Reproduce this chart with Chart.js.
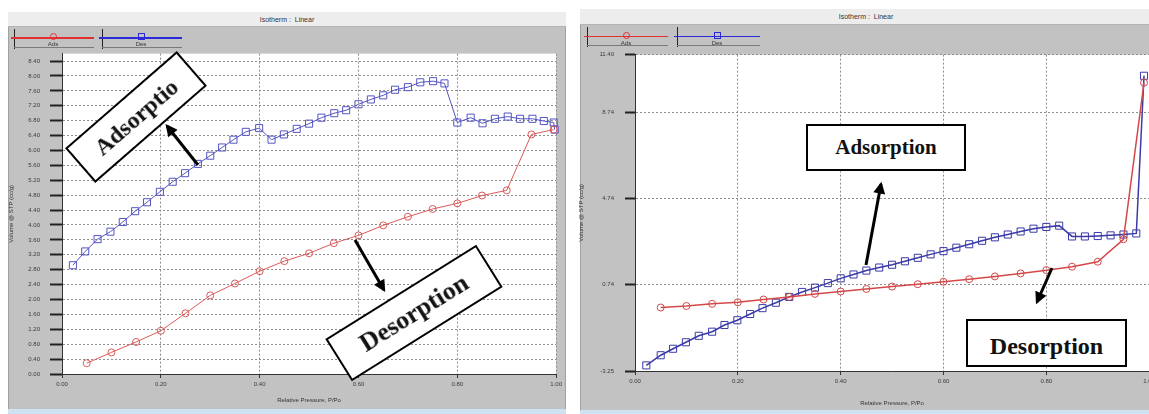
<!DOCTYPE html>
<html lang="en">
<head>
<meta charset="UTF-8" />
<title>Isotherm : Linear</title>
<script src="https://cdn.jsdelivr.net/npm/chart.js"></script>
<style>
  html, body { margin: 0; padding: 0; background: #fff; width: 1149px; height: 414px; overflow: hidden; }
  body { position: relative; font-family: "Liberation Sans", Arial, sans-serif; color: #333; }
  .abs { position: absolute; box-sizing: border-box; }
  .panel { background: #c2c2c2; border: 1px solid #a0a0a0; }
  .titlebar { background: #ededed; border-bottom: 1px solid #b4b4b4; font-size: 7px; text-align: center; }
  .strip { background: #cfe2f2; }
  .leg-line { height: 1.5px; }
  .leg-tick { width: 1px; background: #222; }
  .leg-under { height: 1px; background: #7a7a7a; }
  .leg-text { font-size: 6px; width: 20px; text-align: center; line-height: 6px; }
  .note { border: 2px solid #000; background: #fff; display: flex; align-items: center; justify-content: center;
          font-family: "Liberation Serif", "Times New Roman", serif; font-weight: bold; color: #111;
          white-space: nowrap; overflow: hidden; }
  canvas { position: absolute; }
</style>
</head>
<body>
  <!-- left window -->
  <div class="abs panel" style="left:8px;top:12px;width:558px;height:402px"></div>
  <div class="abs titlebar" style="left:8px;top:12px;width:558px;height:15px;line-height:15px">Isotherm :&nbsp; Linear</div>
  <div class="abs strip" style="left:8px;top:409px;width:558px;height:5px"></div>
  <canvas id="leftChart" width="557" height="365" style="left:8px;top:40px"></canvas>

  <!-- right window -->
  <div class="abs panel" style="left:580px;top:9px;width:600px;height:405px"></div>
  <div class="abs titlebar" style="left:580px;top:9px;width:572px;height:16px;line-height:16px">Isotherm :&nbsp; Linear</div>
  <div class="abs strip" style="left:580px;top:410px;width:600px;height:4px"></div>
  <canvas id="rightChart" width="580" height="368" style="left:578px;top:40px"></canvas>

  <!-- call-outs -->
  <div class="abs note" style="left:62px;top:94px;width:148px;height:46px;font-size:24px;transform:rotate(-41deg)">Adsorptio</div>
  <div class="abs note" style="left:325px;top:288px;width:178px;height:50px;font-size:26px;transform:rotate(-32deg)">Desorption</div>
  <div class="abs note" style="left:806px;top:124px;width:160px;height:47px;font-size:21px">Adsorption</div>
  <div class="abs note" style="left:966px;top:319px;width:161px;height:48px;font-size:24px;padding-top:6px">Desorption</div>

  <svg class="abs" width="1149" height="414" style="left:0;top:0">
    <defs>
      <marker id="head" viewBox="0 0 10 10" refX="8" refY="5" markerWidth="4.5" markerHeight="4" orient="auto">
        <path d="M0,0 L10,5 L0,10 z" fill="#000" />
      </marker>
    </defs>
    <g stroke="#000" stroke-width="3" marker-end="url(#head)">
      <line x1="198" y1="165" x2="167" y2="126" />
      <line x1="355" y1="240" x2="384" y2="290" />
      <line x1="866" y1="265" x2="881" y2="184" />
      <line x1="1052" y1="268" x2="1037" y2="302" />
    </g>
  </svg>

<script>
  // left isotherm (red circles = Ads, blue squares = Des)
  const leftAdsP = [0.05, 0.10, 0.15, 0.20, 0.25, 0.30, 0.35, 0.40, 0.45, 0.50,
                    0.55, 0.60, 0.65, 0.70, 0.75, 0.80, 0.85, 0.90, 0.95, 0.995];
  const leftAdsV = [0.29, 0.58, 0.86, 1.16, 1.63, 2.11, 2.43, 2.76, 3.03, 3.24,
                    3.51, 3.72, 3.99, 4.22, 4.43, 4.58, 4.79, 4.93, 6.43, 6.56];
  const leftDesP = [0.022, 0.047, 0.072, 0.098, 0.123, 0.148, 0.172, 0.198, 0.224, 0.249,
                    0.275, 0.300, 0.324, 0.347, 0.372, 0.399, 0.424, 0.449, 0.475, 0.500,
                    0.525, 0.551, 0.575, 0.600, 0.625, 0.650, 0.674, 0.700, 0.725, 0.751,
                    0.774, 0.800, 0.827, 0.851, 0.876, 0.902, 0.927, 0.952, 0.975, 0.995, 0.997];
  const leftDesV = [2.92, 3.29, 3.62, 3.82, 4.08, 4.37, 4.61, 4.89, 5.16, 5.39,
                    5.64, 5.86, 6.08, 6.29, 6.50, 6.60, 6.29, 6.43, 6.58, 6.72,
                    6.88, 7.00, 7.08, 7.24, 7.37, 7.48, 7.63, 7.70, 7.83, 7.86,
                    7.80, 6.75, 6.88, 6.73, 6.85, 6.91, 6.85, 6.85, 6.79, 6.75, 6.56];
  const leftXTicks = [0, 0.2, 0.4, 0.6, 0.8, 1.0];
  const leftYTicks = [0, 0.4, 0.8, 1.2, 1.6, 2.0, 2.4, 2.8, 3.2, 3.6, 4.0,
                      4.4, 4.8, 5.2, 5.6, 6.0, 6.4, 6.8, 7.2, 7.6, 8.0, 8.4];

  // right isotherm
  const rightAdsP = [0.05, 0.10, 0.15, 0.20, 0.25, 0.30, 0.35, 0.40, 0.45, 0.50,
                     0.55, 0.60, 0.65, 0.70, 0.75, 0.80, 0.85, 0.90, 0.95, 0.99];
  const rightAdsV = [-0.31, -0.24, -0.14, -0.07, 0.06, 0.18, 0.32, 0.43, 0.55, 0.66,
                     0.77, 0.88, 1.00, 1.13, 1.27, 1.42, 1.58, 1.81, 2.85, 10.1];
  const rightDesP = [0.022, 0.050, 0.074, 0.099, 0.124, 0.150, 0.174, 0.199, 0.224, 0.248,
                     0.274, 0.300, 0.325, 0.350, 0.375, 0.400, 0.425, 0.450, 0.475, 0.500,
                     0.525, 0.550, 0.575, 0.600, 0.625, 0.650, 0.675, 0.700, 0.725, 0.750,
                     0.775, 0.800, 0.825, 0.850, 0.875, 0.900, 0.925, 0.950, 0.975, 0.99];
  const rightDesV = [-2.99, -2.52, -2.22, -1.92, -1.62, -1.43, -1.12, -0.90, -0.61, -0.34,
                     -0.09, 0.18, 0.41, 0.61, 0.82, 1.04, 1.22, 1.40, 1.54, 1.67,
                     1.83, 1.99, 2.15, 2.30, 2.46, 2.62, 2.78, 2.94, 3.07, 3.21,
                     3.34, 3.42, 3.48, 2.98, 2.98, 3.00, 3.03, 3.07, 3.12, 10.42];
  const rightXTicks = [0, 0.2, 0.4, 0.6, 0.8, 1.0];
  const rightYTicks = [-3.25, 0.74, 4.74, 8.74, 11.40];

  const seriesNames = ["Ads", "Des"];

  const toXY = (xs, ys) => xs.map((x, i) => ({ x: x, y: ys[i] }));

  // white plot area behind the lines
  const whitePlot = {
    id: "whitePlot",
    beforeDraw(chart) {
      const a = chart.chartArea, c = chart.ctx;
      c.save();
      c.fillStyle = "#fff";
      c.fillRect(a.left, a.top, a.right - a.left, a.bottom - a.top);
      c.restore();
    }
  };

  const tickFont = { family: "Liberation Sans", size: 6 };

  function isotherm(id, o) {
    return new Chart(document.getElementById(id), {
      type: "line",
      data: {
        datasets: [
          {
            label: seriesNames[0], data: toXY(o.adsP, o.adsV),
            borderColor: o.red, borderWidth: o.lw, pointStyle: "circle", pointRadius: 3.5,
            pointBorderColor: o.red, pointBackgroundColor: "rgba(0,0,0,0)", pointBorderWidth: 1, clip: false
          },
          {
            label: seriesNames[1], data: toXY(o.desP, o.desV),
            borderColor: o.blue, borderWidth: o.lw, pointStyle: "rect", pointRadius: 5,
            pointBorderColor: o.blue, pointBackgroundColor: "rgba(0,0,0,0)", pointBorderWidth: 1, clip: false
          }
        ]
      },
      plugins: [whitePlot],
      options: {
        responsive: false,
        animation: false,
        layout: { padding: o.padding },
        plugins: { legend: { display: false }, tooltip: { enabled: false } },
        scales: {
          x: {
            type: "linear", min: 0, max: 1,
            afterBuildTicks: s => { s.ticks = o.xTicks.map(v => ({ value: v })); },
            afterFit: s => { s.height = o.xHeight; },
            ticks: { font: tickFont, color: "#3a3a3a", padding: 3, maxRotation: 0, autoSkip: false,
                     callback: v => Number(v).toFixed(2) },
            grid: { color: "#8c8c8c", tickColor: "#333", tickLength: 4, lineWidth: 1 },
            border: { display: true, color: "#333", width: 1, dash: [2, 2] },
            title: { display: true, text: "Relative Pressure, P/Po", font: tickFont, color: "#333",
                     padding: { top: 0, bottom: 1 } }
          },
          y: {
            type: "linear", min: o.yMin, max: o.yMax,
            afterBuildTicks: s => { s.ticks = o.yTicks.map(v => ({ value: v })); },
            afterFit: s => { s.width = o.yWidth; },
            ticks: { font: tickFont, color: "#3a3a3a", padding: o.yPad, autoSkip: false,
                     callback: v => Number(v).toFixed(2) },
            grid: { color: "#8c8c8c", tickColor: "#222", tickLength: o.yTick, tickWidth: 2, lineWidth: 1 },
            border: { display: true, color: "#333", width: 1, dash: [2, 2] },
            title: { display: true, text: "Volume @ STP (cc/g)", font: tickFont, color: "#333",
                     padding: { top: 0, bottom: o.yTitlePad } }
          }
        }
      }
    });
  }

  isotherm("leftChart", {
    adsP: leftAdsP, adsV: leftAdsV, desP: leftDesP, desV: leftDesV,
    xTicks: leftXTicks, yTicks: leftYTicks, yMin: 0, yMax: 8.6,
    red: "#dc5a5a", blue: "#5454c4", lw: 1,
    padding: { top: 7, right: 6, left: 0, bottom: 0 },
    xHeight: 31, yWidth: 54, yPad: 10, yTick: 12, yTitlePad: 1
  });

  isotherm("rightChart", {
    adsP: rightAdsP, adsV: rightAdsV, desP: rightDesP, desV: rightDesV,
    xTicks: rightXTicks, yTicks: rightYTicks, yMin: -3.25, yMax: 11.40,
    red: "#d44848", blue: "#3a3aa8", lw: 1.5,
    padding: { top: 8, right: 6, left: 0, bottom: 0 },
    xHeight: 37, yWidth: 57, yPad: 11, yTick: 10, yTitlePad: 3
  });

  // legend strips (drawn like the instrument software)
  const legendItems = [
    { x0: 11, x1: 94, y: 38, mx: 53, top: 29, color: "#e03030", shape: "circle", name: seriesNames[0] },
    { x0: 99, x1: 182, y: 38, mx: 141, top: 29, color: "#2a2ad8", shape: "square", name: seriesNames[1] },
    { x0: 584, x1: 668, y: 36.5, mx: 626, top: 27, color: "#e03030", shape: "circle", name: seriesNames[0] },
    { x0: 674, x1: 760, y: 36.5, mx: 717, top: 27, color: "#2a2ad8", shape: "square", name: seriesNames[1] }
  ];
  function put(cls, style, text) {
    const d = document.createElement("div");
    d.className = "abs " + cls;
    Object.assign(d.style, style);
    if (text) d.textContent = text;
    document.body.appendChild(d);
  }
  legendItems.forEach(it => {
    put("leg-tick", { left: (it.x0 + 3) + "px", top: it.top + "px", height: "20px" });
    put("leg-under", { left: (it.x0 + 3) + "px", top: (it.top + 18) + "px", width: (it.x1 - it.x0 - 3) + "px" });
    put("leg-line", { left: it.x0 + "px", top: (it.y - 1) + "px", width: (it.x1 - it.x0) + "px", background: it.color });
    put("", { left: (it.mx - 3) + "px", top: (it.y - 5) + "px", width: "7px", height: "7px",
              border: "1px solid " + it.color, borderRadius: it.shape === "circle" ? "50%" : "0" });
    put("leg-text", { left: (it.mx - 10) + "px", top: (it.y + 3) + "px" }, it.name);
  });
</script>
</body>
</html>
